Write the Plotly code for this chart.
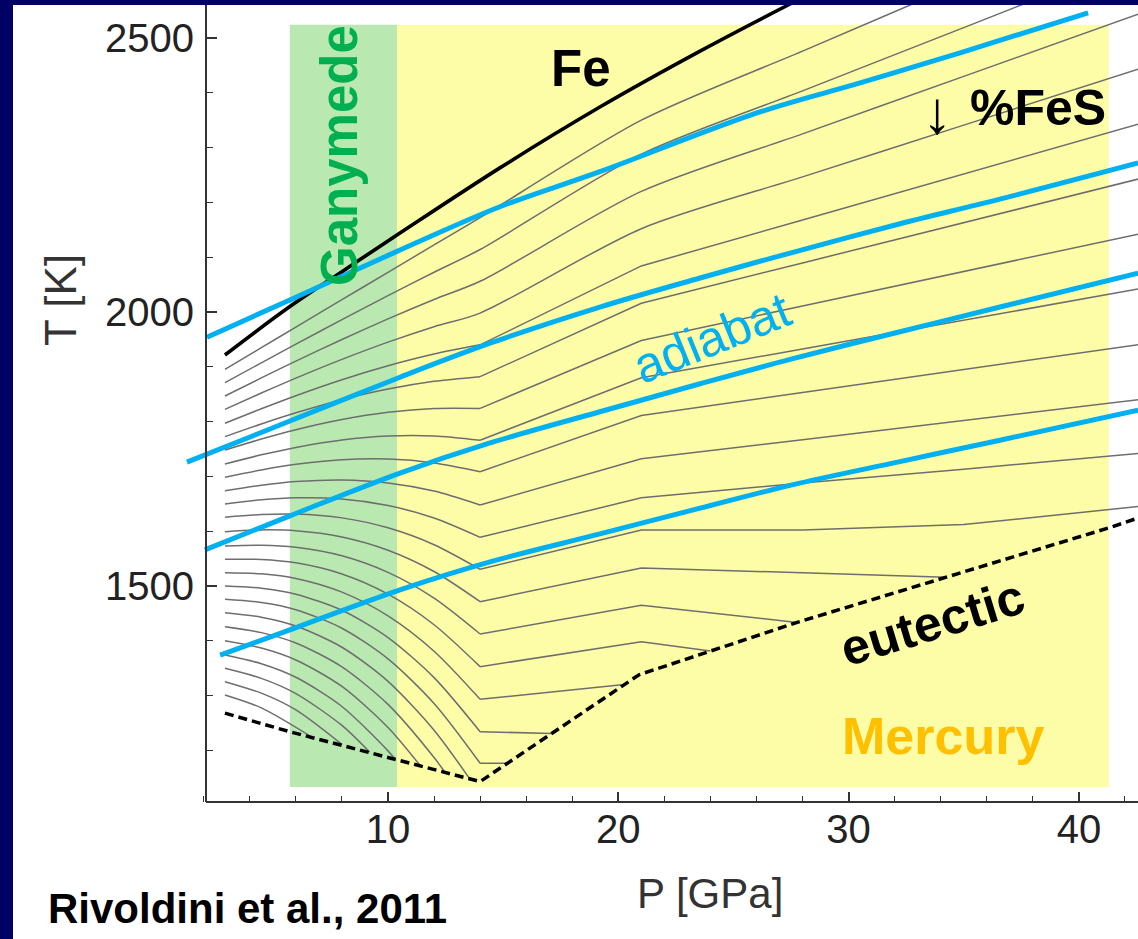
import plotly.graph_objects as go

# ---------------- data ----------------
# Pressure grid (GPa) on which the liquidus curves were read
P_grid = [2.92, 4.5, 6, 8, 10, 12, 14, 21, 28, 35, 42.57]

# Liquidus temperatures (K) of the Fe-FeS curves, from low to high S content
liquidus_T = [
    [1895.4, 1934.9, 1972.4, 2022.4, 2072.4, 2122.4, 2172.0, 2350, 2476, 2602, 2738],
    [1871.0, 1907.2, 1941.3, 1986.0, 2029.8, 2072.5, 2114.0, 2288, 2403.5, 2519, 2644],
    [1846.7, 1879.7, 1910.3, 1949.8, 1987.4, 2022.9, 2056.0, 2220, 2325, 2430, 2543.6],
    [1822.4, 1852.1, 1879.3, 1913.5, 1945.0, 1973.2, 1998.0, 2152, 2246.5, 2341, 2443.2],
    [1796.9, 1823.4, 1847.2, 1876.3, 1901.8, 1923.2, 1940.0, 2084, 2168, 2252, 2342.8],
    [1772.5, 1795.7, 1816.1, 1840.0, 1859.3, 1873.5, 1882.0, 2016, 2089.5, 2163, 2242.5],
    [1748.2, 1768.1, 1785.1, 1803.7, 1816.9, 1823.9, 1824.0, 1948, 2011, 2074, 2142],
    [1722.6, 1739.3, 1752.9, 1766.4, 1773.7, 1773.8, 1766.0, 1880, 1932.5, 1985, 2041.8],
    [1698.4, 1711.8, 1722.0, 1730.3, 1731.5, 1724.6, 1708.6, 1811, 1853, 1895, 1940.4],
    [1673.9, 1684.0, 1690.7, 1693.5, 1688.1, 1673.2, 1647.8, 1732, 1767, 1802, 1839.9],
    [1649.6, 1657.2, 1660.9, 1658.8, 1646.9, 1624.0, 1588.8, 1661, 1688, 1713, 1742],
    [1625.4, 1630.4, 1631.3, 1624.3, 1606.1, 1575.3, 1530.4, 1602, 1602, 1612, 1645],
    [1599.1, 1602.3, 1600.9, 1589.5, 1565.3, 1526.4, 1471.4, 1533, 1524, None, None],
    [1573.0, 1574.5, 1570.7, 1555.1, 1524.8, 1477.8, 1412.4, 1465, None, None, None],
    [1548.7, 1548.4, 1542.2, 1521.9, 1485.1, 1429.3, 1352.8, 1398, None, None, None],
    [1524.3, 1522.1, 1513.6, 1488.7, 1445.4, 1380.9, 1293.2, None, None, None, None],
    [1500.0, 1496.0, 1485.1, 1455.7, 1405.9, 1332.8, 1234.1, None, None, None, None],
    [1475.7, 1469.9, 1456.7, 1422.9, 1366.9, 1285.6, 1176.5, None, None, None, None],
    [1451.3, 1443.0, 1426.9, 1388.2, 1326.0, 1236.9, None, None, None, None, None],
    [1425.7, 1414.9, 1395.9, 1352.4, 1283.9, 1187.0, None, None, None, None, None],
    [1400.2, 1386.8, 1365.0, 1316.6, 1241.8, None, None, None, None, None, None],
    [1374.0, 1358.2, 1333.4, 1280.1, 1199.1, None, None, None, None, None, None],
    [1349.8, 1331.4, 1303.7, 1245.5, None, None, None, None, None, None, None],
    [1325.4, 1304.4, 1273.8, None, None, None, None, None, None, None, None],
    [1301.1, 1277.6, None, None, None, None, None, None, None, None, None],
]
# Where a curve stops on the eutectic (None = runs off the chart)
end_P = [None] * 12 + [34.24, 27.76, 24.0, 20.26, 17.11, 15.18, 13.55, 12.47, 11.40, 10.29, 9.2, 8.01, 6.62]
end_T = [None] * 12 + [1515.8, 1433.4, 1381.2, 1320.1, 1230.9, 1176.5, 1147.9, 1160.1, 1172.2, 1184.7, 1197.0, 1210.5, 1226.2]

# Pure Fe melting curve
fe_P = [2.92, 5.74, 8.05, 10.52, 14.86, 19.2, 23.55, 27.46, 28.5]
fe_T = [1921.5, 2010, 2075, 2144, 2263, 2374, 2476, 2562, 2584]

# Eutectic
eut_P = [2.92, 5.74, 14.0, 20.9, 27.8, 41.3, 42.57]
eut_T = [1268, 1234, 1143, 1338, 1434, 1606, 1624]

# Adiabats
adiabat1_P = [2.14, 5.74, 10.52, 14.86, 19.20, 26.15, 30.50, 34.84, 40.40]
adiabat1_T = [1954, 2022, 2113, 2192, 2256, 2365, 2418, 2473, 2546]
adiabat2_P = [1.27, 5.74, 10.52, 14.43, 19.20, 23.55, 27.50, 32.23, 36.57, 42.57]
adiabat2_T = [1726, 1801, 1881, 1943, 2009, 2062, 2108, 2161, 2206, 2272]
adiabat3_P = [2.05, 5.74, 10.52, 14.43, 19.20, 23.55, 27.50, 32.23, 36.57, 42.57]
adiabat3_T = [1566, 1628, 1706, 1761, 1818, 1869, 1914, 1964, 2009, 2071]
adiabat4_P = [2.71, 5.74, 10.52, 14.43, 19.20, 23.55, 27.50, 32.23, 36.57, 42.57]
adiabat4_T = [1374, 1420, 1493, 1544, 1595, 1642, 1684, 1727, 1766, 1821]

# Pressure ranges of the two cores (shaded bands) and their T extent
ganymede_P = [5.74, 10.39]
mercury_P = [10.39, 41.3]
band_T = [1133, 2524]

# ---------------- layout geometry ----------------
W, H = 1138, 939
M_L, M_R, M_T, M_B = 186, 0, 5, 137
X_RANGE = [1.229, 42.566]
Y_RANGE = [1105.8, 2560.2]
PW = W - M_L - M_R
PH = H - M_T - M_B


def paper_x(px):
    return (px - M_L) / PW


def paper_y(py):
    return (H - M_B - py) / PH


NAVY = "#000066"
GRAY = "#6e6e6e"
BLUE = "#00b0f0"
FONT = "Arial, Liberation Sans, sans-serif"

fig = go.Figure()

# shaded regions
fig.add_shape(type="rect", xref="x", yref="y", x0=mercury_P[0], x1=mercury_P[1],
              y0=band_T[0], y1=band_T[1], fillcolor="#fdfda8", line_width=0, layer="below")
fig.add_shape(type="rect", xref="x", yref="y", x0=ganymede_P[0], x1=ganymede_P[1],
              y0=band_T[0], y1=band_T[1], fillcolor="#b9e9b0", line_width=0, layer="below")

# liquidus curves (low-S curves are smooth; higher-S ones kink at 14 GPa)
for k, (row, ep, et) in enumerate(zip(liquidus_T, end_P, end_T)):
    pts = [(p, t) for p, t in zip(P_grid, row) if t is not None]
    if ep is not None:
        pts.append((ep, et))
    pts.sort()
    if k < 4:
        parts = ((pts, "spline"),)
    else:
        parts = (([pt for pt in pts if pt[0] <= 14], "spline"),
                 ([pt for pt in pts if pt[0] >= 14], "linear"))
    for part, shape in parts:
        if len(part) >= 2:
            fig.add_trace(go.Scatter(
                x=[p for p, _ in part], y=[t for _, t in part], mode="lines",
                line=dict(color=GRAY, width=1.5, shape=shape, smoothing=0.8),
                hoverinfo="skip", showlegend=False))

# Fe curve
fig.add_trace(go.Scatter(x=fe_P, y=fe_T, mode="lines",
                         line=dict(color="black", width=3.6, shape="spline"),
                         hoverinfo="skip", showlegend=False))
# eutectic
fig.add_trace(go.Scatter(x=eut_P, y=eut_T, mode="lines",
                         line=dict(color="black", width=3.5, dash="9px,5px"),
                         hoverinfo="skip", showlegend=False))
# adiabats
for ap, at in ((adiabat1_P, adiabat1_T), (adiabat2_P, adiabat2_T),
               (adiabat3_P, adiabat3_T), (adiabat4_P, adiabat4_T)):
    fig.add_trace(go.Scatter(x=ap, y=at, mode="lines",
                             line=dict(color=BLUE, width=5, shape="spline"),
                             hoverinfo="skip", showlegend=False))

# axis line along the bottom (starts at the y axis)
fig.add_shape(type="line", xref="paper", yref="paper", x0=paper_x(206), x1=1.0,
              y0=0, y1=0, line=dict(color="#333333", width=2))

# navy slide border (left and top)
fig.add_shape(type="rect", xref="paper", yref="paper", x0=paper_x(0), x1=paper_x(13),
              y0=paper_y(H), y1=paper_y(0), fillcolor=NAVY, line_width=0, layer="above")
fig.add_shape(type="rect", xref="paper", yref="paper", x0=paper_x(0), x1=paper_x(W),
              y0=paper_y(5), y1=paper_y(0), fillcolor=NAVY, line_width=0, layer="above")


def note(text, px, py, size, color="black", angle=0, xanchor="center"):
    fig.add_annotation(text=text, xref="paper", yref="paper", x=paper_x(px), y=paper_y(py),
                       xanchor=xanchor, yanchor="middle", showarrow=False, textangle=angle,
                       font=dict(family=FONT, size=size, color=color))


note("<b>Ganymede</b>", 339, 156, 51, "#00b050", angle=-90)
note("<b>Fe</b>", 581, 68, 51)
note("↓", 937, 112, 60)
note("<b>%FeS</b>", 1108, 108, 50, xanchor="right")
note("adiabat", 712, 338, 50, BLUE, angle=-22)
note("<b>eutectic</b>", 932, 623, 50, angle=-17)
note("<b>Mercury</b>", 943, 736, 52, "#ffc000")
note("<b>Rivoldini et al., 2011</b>", 247, 908, 42)
note("T [K]", 60, 300, 44, "#333333", angle=-90)
note("P [GPa]", 710, 893, 42, "#333333")

tickfont = dict(family=FONT, size=40, color="#222222")
fig.update_layout(
    width=W, height=H,
    margin=dict(l=M_L, r=M_R, t=M_T, b=M_B, pad=0),
    paper_bgcolor="white", plot_bgcolor="white",
    showlegend=False,
    font=dict(family=FONT),
    xaxis=dict(range=X_RANGE, showline=False, showgrid=False, zeroline=False,
               ticks="inside", ticklen=10, tickwidth=1.5, tickcolor="#333333",
               tick0=0, dtick=10, tickfont=tickfont, ticklabelstandoff=0,
               minor=dict(tick0=0, dtick=2, ticks="inside", ticklen=6,
                          tickwidth=1.2, tickcolor="#333333")),
    yaxis=dict(range=Y_RANGE, anchor="free", position=paper_x(206), side="left",
               showline=True, linecolor="#333333", linewidth=2,
               showgrid=False, zeroline=False,
               ticks="inside", ticklen=10, tickwidth=1.5, tickcolor="#333333",
               tick0=0, dtick=500, tickfont=tickfont, ticklabelstandoff=3,
               minor=dict(tick0=0, dtick=100, ticks="inside", ticklen=6,
                          tickwidth=1.2, tickcolor="#333333")),
)

fig.write_html("out.html")
